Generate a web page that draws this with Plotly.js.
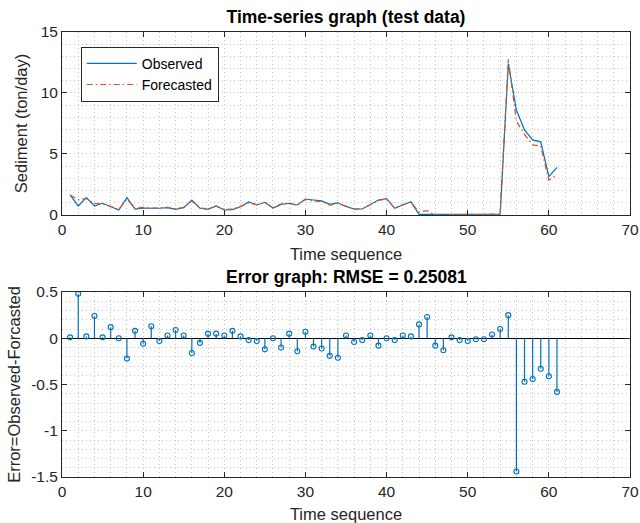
<!DOCTYPE html>
<html>
<head>
<meta charset="utf-8">
<script src="https://cdn.plot.ly/plotly-3.0.1.min.js"></script>
<style>html,body{margin:0;padding:0;background:#fff;}#chart{width:640px;height:523px;}</style>
</head>
<body>
<div id="chart"></div>
<script>
// Time index of test samples
const timeSeq = [1,2,3,4,5,6,7,8,9,10,11,12,13,14,15,16,17,18,19,20,21,22,23,24,25,26,27,28,29,30,31,32,33,34,35,36,37,38,39,40,41,42,43,44,45,46,47,48,49,50,51,52,53,54,55,56,57,58,59,60,61];

// Observed sediment (ton/day)
const observed = [1.64,0.74,1.42,0.74,0.96,0.68,0.41,1.42,0.49,0.57,
  0.55,0.55,0.60,0.46,0.60,1.23,0.55,0.46,0.74,0.41,
  0.44,0.68,1.07,0.82,1.04,0.57,0.87,0.96,0.82,1.31,
  1.23,1.16,0.87,1.00,0.70,0.49,0.49,0.87,1.23,1.34,
  0.55,0.82,1.09,0.05,0.05,0.04,0.05,0.05,0.06,0.05,
  0.05,0.06,0.06,0.07,12.38,8.60,6.97,6.15,6.00,3.14,3.90];

// Forecasted sediment (ton/day)
const forecasted = [1.64,1.25,1.35,0.95,0.90,0.72,0.45,1.30,0.55,0.62,
  0.55,0.58,0.62,0.50,0.62,1.15,0.58,0.50,0.72,0.45,
  0.48,0.70,1.00,0.85,1.00,0.60,0.90,0.95,0.80,1.28,
  1.15,1.10,0.80,0.95,0.72,0.48,0.50,0.85,1.20,1.30,
  0.58,0.85,1.05,0.25,0.35,0.00,-0.05,0.02,0.05,0.05,
  0.04,0.05,0.06,0.07,12.76,7.70,6.60,5.75,5.65,2.85,3.30];

// Error = Observed - Forecasted (as plotted in the stem graph)
const errorVals = [0.01,0.48,0.02,0.24,0.01,0.12,0.00,-0.22,0.08,-0.06,
  0.13,-0.03,0.03,0.09,0.03,-0.16,-0.05,0.05,0.05,0.03,
  0.08,0.02,-0.02,-0.03,-0.12,0.00,-0.10,0.05,-0.14,0.07,
  -0.09,-0.11,-0.19,-0.21,0.03,-0.04,-0.02,0.03,-0.08,0.00,
  -0.02,0.03,0.02,0.15,0.23,-0.08,-0.13,0.01,-0.02,-0.03,
  -0.01,-0.01,0.04,0.10,0.25,-1.44,-0.47,-0.44,-0.33,-0.41,-0.58];

const xTickVals = [0,10,20,30,40,50,60,70];
const xTickText = ['0','10','20','30','40','50','60','70'];
const y1TickVals = [0,5,10,15];
const y1TickText = ['0','5','10','15'];
const y2TickVals = [-1.5,-1,-0.5,0,0.5];
const y2TickText = ['-1.5','-1','-0.5','0','0.5'];

const blue = '#0072BD', orange = '#D95319', ink = '#262626', grid = '#c4c4c4';
const FONT = 'Liberation Sans, Arial, Helvetica, sans-serif';
const GD = '1px,3px';

// stems built from data
const stemX = [], stemY = [];
timeSeq.forEach((t, k) => { stemX.push(t, t, null); stemY.push(0, errorVals[k], null); });

const traces = [
  {x: timeSeq, y: observed, type: 'scatter', mode: 'lines', name: 'Observed',
   line: {color: blue, width: 1.2}, xaxis: 'x', yaxis: 'y'},
  {x: timeSeq, y: forecasted, type: 'scatter', mode: 'lines', name: 'Forecasted',
   line: {color: orange, width: 1.2, dash: '6px,3px,1.5px,3px'}, xaxis: 'x', yaxis: 'y'},
  {x: stemX, y: stemY, type: 'scatter', mode: 'lines', showlegend: false,
   line: {color: blue, width: 1.2}, xaxis: 'x2', yaxis: 'y2', hoverinfo: 'skip'},
  {x: timeSeq, y: errorVals, type: 'scatter', mode: 'markers', showlegend: false,
   marker: {symbol: 'circle-open', size: 5, color: blue, line: {width: 1.1, color: blue}},
   xaxis: 'x2', yaxis: 'y2'}
];

function xAx(anchor, so) {
  return {
    anchor: anchor, domain: [0, 1], range: [0, 70],
    tickvals: xTickVals, ticktext: xTickText,
    ticks: 'inside', ticklen: 5, tickwidth: 1, tickcolor: ink,
    showline: true, linecolor: ink, linewidth: 1, mirror: 'allticks',
    showgrid: true, gridcolor: grid, griddash: GD, gridwidth: 1,
    minor: {dtick: 2, tick0: 0, showgrid: true, gridcolor: grid, griddash: GD, gridwidth: 1},
    zeroline: false, automargin: false,
    tickfont: {family: FONT, size: 15.5, color: ink},
    title: {text: 'Time sequence', font: {family: FONT, size: 16.5, color: ink}, standoff: so}
  };
}
function yAx(anchor, domain, range, tv, tt, minorStep, zl) {
  return {
    anchor: anchor, domain: domain, range: range,
    tickvals: tv, ticktext: tt,
    ticks: 'inside', ticklen: 5, tickwidth: 1, tickcolor: ink,
    showline: true, linecolor: ink, linewidth: 1, mirror: 'allticks',
    showgrid: true, gridcolor: grid, griddash: GD, gridwidth: 1,
    minor: {dtick: minorStep, tick0: 0, showgrid: true, gridcolor: grid, griddash: GD, gridwidth: 1},
    zeroline: zl, zerolinecolor: '#000', zerolinewidth: 1, automargin: false,
    tickfont: {family: FONT, size: 15.5, color: ink}
  };
}

const ya1 = yAx('x', [0.5888, 1], [0, 15], y1TickVals, y1TickText, 1, false);
ya1.title = {text: 'Sediment (ton/day)', font: {family: FONT, size: 16.5, color: ink}, standoff: 8};
const ya2 = yAx('x2', [0, 0.4157], [-1.5, 0.5], y2TickVals, y2TickText, 0.1, true);
ya2.title = {text: 'Error=Observed-Forcasted', font: {family: FONT, size: 16.5, color: ink}, standoff: 6};

const layout = {
  width: 640, height: 523,
  margin: {l: 62, r: 10, t: 32, b: 46},
  paper_bgcolor: '#fff', plot_bgcolor: '#fff',
  font: {family: FONT, color: ink},
  title: {text: '<b>Time-series graph (test data)</b>', font: {family: FONT, size: 17.5, color: '#000'},
          x: 0.5, xref: 'paper', xanchor: 'center', y: 0.9675, yref: 'container', yanchor: 'middle'},
  xaxis: xAx('y', 11), yaxis: ya1,
  xaxis2: xAx('y2', 14), yaxis2: ya2,
  showlegend: true,
  legend: {x: 0.033, y: 0.967, xref: 'paper', yref: 'paper', xanchor: 'left', yanchor: 'top',
           bgcolor: '#fff', bordercolor: ink, borderwidth: 1,
           font: {family: FONT, size: 14, color: '#000'}, itemwidth: 50, tracegroupgap: 0},
  annotations: [{text: '<b>Error graph: RMSE = 0.25081</b>', xref: 'paper', yref: 'paper',
                 x: 0.5, y: 0.4494, xanchor: 'center', yanchor: 'middle', showarrow: false,
                 font: {family: FONT, size: 17.5, color: '#000'}}]
};

Plotly.newPlot('chart', traces, layout, {staticPlot: true, displayModeBar: false});
</script>
</body>
</html>
